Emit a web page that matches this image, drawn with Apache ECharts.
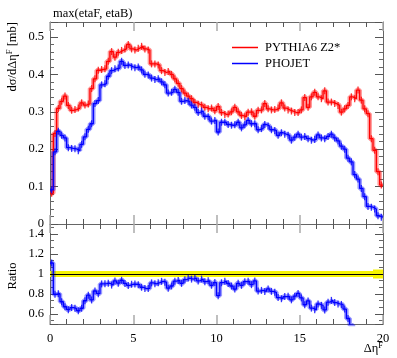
<!DOCTYPE html>
<html><head><meta charset="utf-8">
<script src="https://cdn.jsdelivr.net/npm/echarts@6/dist/echarts.min.js"></script>
<style>html,body{margin:0;padding:0;background:#fff}#c{width:397px;height:358px}</style>
</head><body><div id="c"></div>
<script>
// ---- data (bins of width 0.2 from 0 to 20) ----
const binStart = 0;
const binWidth = 0.2;
const pythia = [
0.082,0.242,0.309,0.328,0.342,0.317,0.304,0.306,0.310,0.324,
0.318,0.321,0.362,0.388,0.411,0.413,0.415,0.435,0.461,0.446,
0.459,0.464,0.468,0.480,0.468,0.465,0.470,0.475,0.468,0.465,
0.428,0.428,0.425,0.410,0.405,0.408,0.400,0.388,0.376,0.362,
0.350,0.342,0.335,0.325,0.320,0.318,0.312,0.308,0.310,0.303,
0.314,0.298,0.293,0.294,0.300,0.312,0.300,0.290,0.287,0.299,
0.300,0.288,0.304,0.305,0.322,0.308,0.305,0.306,0.310,0.324,
0.310,0.305,0.302,0.298,0.298,0.305,0.338,0.312,0.340,0.352,
0.340,0.335,0.356,0.326,0.326,0.322,0.317,0.299,0.308,0.317,
0.340,0.335,0.358,0.331,0.308,0.295,0.228,0.197,0.140,0.104];
const phojet = [
0.091,0.193,0.248,0.237,0.230,0.204,0.202,0.201,0.196,0.213,
0.233,0.253,0.268,0.322,0.330,0.372,0.375,0.395,0.410,0.415,
0.417,0.435,0.424,0.425,0.420,0.418,0.420,0.412,0.400,0.398,
0.390,0.386,0.388,0.380,0.372,0.350,0.352,0.360,0.352,0.328,
0.330,0.328,0.318,0.312,0.298,0.302,0.288,0.287,0.275,0.277,
0.246,0.272,0.272,0.266,0.264,0.265,0.272,0.257,0.265,0.277,
0.268,0.268,0.252,0.255,0.266,0.262,0.252,0.250,0.237,0.244,
0.240,0.237,0.224,0.232,0.240,0.232,0.234,0.228,0.224,0.226,
0.238,0.230,0.228,0.234,0.240,0.230,0.222,0.208,0.200,0.176,
0.166,0.132,0.120,0.095,0.073,0.047,0.045,0.040,0.022,0.018];
const seriesNames = ['PYTHIA6 Z2*', 'PHOJET'];
const xTicks = [0, 5, 10, 15, 20];
const yTicks = [0, 0.1, 0.2, 0.3, 0.4, 0.5];
const ratioTicks = [0.6, 0.8, 1, 1.2, 1.4];
const refBand = [0.97, 1.03];       // MC reference uncertainty band
const refBandEnd = [19.4, 0.955, 1.045];

// ---- derived ----
const ratio = phojet.map((v, i) => v / pythia[i]);
function stepData(vals) {
  const d = vals.map((v, i) => [binStart + i * binWidth, v]);
  d.push([binStart + vals.length * binWidth, vals[vals.length - 1]]);
  return d;
}
function centerData(vals) {
  return vals.map((v, i) => [binStart + (i + 0.5) * binWidth, v]);
}

const FONT = 'Liberation Serif';
const RED = '#ff0000', BLUE = '#0000ff';

function xAx(gridIndex, position, labels) {
  return {
    type: 'value', gridIndex, position, min: 0, max: 20, interval: 5,
    axisLine: { show: true, onZero: false, lineStyle: { color: '#666', width: 1 } },
    axisTick: { show: true, inside: true, length: 9, lineStyle: { color: '#aaa', width: 1.5 } },
    minorTick: { show: true, splitNumber: 5, length: 5, lineStyle: { color: '#555', width: 1 } },
    axisLabel: {
      show: labels, margin: 8, color: '#000', fontFamily: FONT, fontSize: 12.5,
      formatter: v => (xTicks.includes(+(+v).toFixed(2)) ? String(+(+v).toFixed(2)) : '')
    },
    splitLine: { show: false }, minorSplitLine: { show: false }
  };
}
function yAx(gridIndex, position, labels, min, max, interval, ticks, minorSplit) {
  const a = {
    type: 'value', gridIndex, position, min, max,
    axisLine: { show: true, onZero: false, lineStyle: { color: '#666', width: 1 } },
    axisTick: { show: true, inside: true, length: 8, lineStyle: { color: '#555', width: 1 } },
    minorTick: { show: true, splitNumber: minorSplit, length: 4, lineStyle: { color: '#666', width: 1 } },
    axisLabel: {
      show: labels, margin: 6, color: '#000', fontFamily: FONT, fontSize: 12.5,
      showMinLabel: true, showMaxLabel: true,
      formatter: v => { const s = +(+v).toFixed(3); return ticks.includes(s) ? String(s) : ''; }
    },
    splitLine: { show: false }, minorSplitLine: { show: false }
  };
  if (interval) a.interval = interval; else a.splitNumber = 5;
  return a;
}

function bandSeries(name, data, color, xi, yi, z) {
  return { name, type: 'line', step: 'end', data, xAxisIndex: xi, yAxisIndex: yi,
    symbol: 'none', silent: true, z,
    lineStyle: { color, width: 4.5, opacity: 0.4 }, itemStyle: { color } };
}
function lineSeries(name, data, color, xi, yi, z) {
  return { name, type: 'line', step: 'end', data, xAxisIndex: xi, yAxisIndex: yi,
    symbol: 'none', silent: true, z,
    lineStyle: { color, width: 1.3 }, itemStyle: { color } };
}
function errSeries(name, data, color, xi, yi, z) {
  return { name, type: 'scatter', data, xAxisIndex: xi, yAxisIndex: yi,
    symbol: 'rect', symbolSize: [1.3, 7], silent: true, z,
    itemStyle: { color } };
}

const chart = echarts.init(document.getElementById('c'), null, { renderer: 'canvas' });
chart.setOption({
  animation: false,
  backgroundColor: '#fff',
  grid: [
    { left: 50, top: 22, width: 333, height: 202 },
    { left: 50, top: 224, width: 333, height: 100 }
  ],
  xAxis: [
    xAx(0, 'bottom', false), xAx(0, 'top', false),
    xAx(1, 'bottom', true), xAx(1, 'top', false)
  ],
  yAxis: [
    yAx(0, 'left', true, 0, 0.54, 0.1, yTicks, 5),
    yAx(0, 'right', false, 0, 0.54, 0.1, yTicks, 5),
    yAx(1, 'left', true, 0.5, 1.5, null, ratioTicks, 3),
    yAx(1, 'right', false, 0.5, 1.5, null, ratioTicks, 3)
  ],
  title: {
    text: 'max(etaF, etaB)', left: 48, top: 2,
    textStyle: { fontFamily: FONT, fontSize: 12.5, fontWeight: 'normal', color: '#000' }
  },
  legend: {
    data: seriesNames, orient: 'vertical', left: 227, top: 35,
    icon: 'rect', itemWidth: 26, itemHeight: 1.5, itemGap: 1,
    textStyle: { fontFamily: FONT, fontSize: 12.5, color: '#000', lineHeight: 15, padding: [0, 0, 0, 2] }
  },
  graphic: [
    { type: 'text', x: 13, y: 22, rotation: Math.PI / 2,
      style: { text: '{a|dσ/dΔη}{s|F}{a| [mb]}', align: 'right', verticalAlign: 'middle', fill: '#000',
        rich: { a: { fontFamily: FONT, fontSize: 12.5, lineHeight: 15 },
                s: { fontFamily: FONT, fontSize: 8.5, verticalAlign: 'top', lineHeight: 15 } } } },
    { type: 'text', x: 13, y: 276, rotation: Math.PI / 2,
      style: { text: 'Ratio', align: 'center', verticalAlign: 'middle', fill: '#000',
        font: '12.5px "Liberation Serif"' } },
    { type: 'text', x: 383, y: 349,
      style: { text: '{a|Δη}{s|F}', align: 'right', verticalAlign: 'middle', fill: '#000',
        rich: { a: { fontFamily: FONT, fontSize: 12.5, lineHeight: 15 },
                s: { fontFamily: FONT, fontSize: 8.5, verticalAlign: 'top', lineHeight: 15 } } } }
  ],
  series: [
    bandSeries('pythiaBand', stepData(pythia), RED, 0, 0, 2),
    bandSeries('phojetBand', stepData(phojet), BLUE, 0, 0, 2),
    lineSeries(seriesNames[0], stepData(pythia), RED, 0, 0, 4),
    errSeries('pythiaErr', centerData(pythia), RED, 0, 0, 4),
    lineSeries(seriesNames[1], stepData(phojet), BLUE, 0, 0, 5),
    errSeries('phojetErr', centerData(phojet), BLUE, 0, 0, 5),
    { name: 'refBand', type: 'line', data: [], xAxisIndex: 2, yAxisIndex: 2, z: 1, silent: true,
      markArea: { silent: true, itemStyle: { color: '#f6f400' },
        data: [
          [{ xAxis: 0, yAxis: refBand[0] }, { xAxis: 20, yAxis: refBand[1] }],
          [{ xAxis: refBandEnd[0], yAxis: refBandEnd[1] }, { xAxis: 20, yAxis: refBandEnd[2] }]
        ] },
      markLine: { silent: true, symbol: 'none', label: { show: false },
        lineStyle: { color: '#000', width: 1, type: 'solid' }, data: [{ yAxis: 1 }] } },
    bandSeries('ratioBand', stepData(ratio), BLUE, 2, 2, 3),
    lineSeries('ratio', stepData(ratio), BLUE, 2, 2, 4),
    errSeries('ratioErr', centerData(ratio), BLUE, 2, 2, 4)
  ]
});
</script></body></html>
